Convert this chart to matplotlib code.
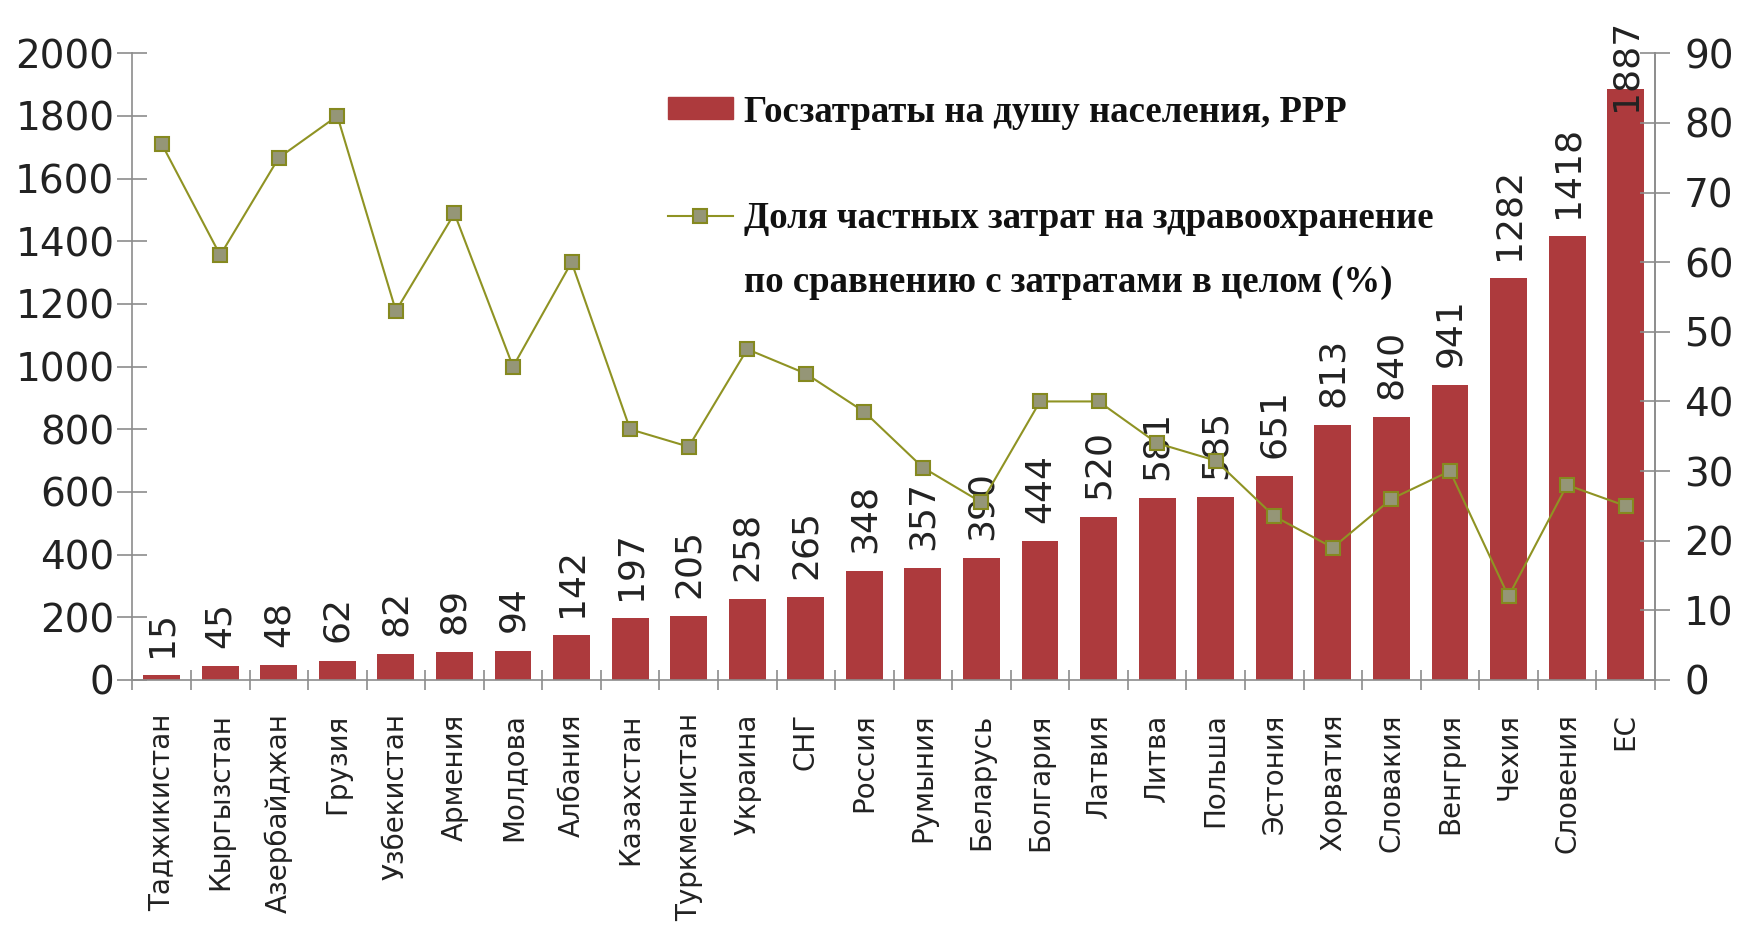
import matplotlib.pyplot as plt
from matplotlib.patches import Rectangle
from matplotlib.lines import Line2D

# Data
countries = ["Таджикистан", "Кыргызстан", "Азербайджан", "Грузия", "Узбекистан",
             "Армения", "Молдова", "Албания", "Казахстан", "Туркменистан",
             "Украина", "СНГ", "Россия", "Румыния", "Беларусь", "Болгария",
             "Латвия", "Литва", "Польша", "Эстония", "Хорватия", "Словакия",
             "Венгрия", "Чехия", "Словения", "ЕС"]
public_spend_ppp = [15, 45, 48, 62, 82, 89, 94, 142, 197, 205, 258, 265, 348,
                    357, 390, 444, 520, 581, 585, 651, 813, 840, 941, 1282,
                    1418, 1887]
private_share_pct = [77, 61, 75, 81, 53, 67, 45, 60, 36, 33.5, 47.5, 44, 38.5,
                     30.5, 25.5, 40, 40, 34, 31.5, 23.5, 19, 26, 30, 12, 28, 25]

left_ticks = list(range(0, 2001, 200))
right_ticks = list(range(0, 91, 10))

BAR_COLOR = "#AD3A3D"
LINE_COLOR = "#8F9323"
MARKER_FACE = "#959677"
MARKER_EDGE = "#85891F"
AXIS_GRAY = "#8C8C8C"

plt.rcParams['font.family'] = ['DejaVu Sans']

fig = plt.figure(figsize=(17.42, 9.27), dpi=100)
ax = fig.add_axes([0.076, 0.2665, 0.874, 0.676])

n = len(countries)
xs = list(range(n))
ax.bar(xs, public_spend_ppp, width=0.63, color=BAR_COLOR, zorder=2)
ax.set_xlim(-0.5, n - 0.5)
ax.set_ylim(0, 2000)
ax.set_yticks(left_ticks)
ax.set_yticklabels([str(t) for t in left_ticks], fontsize=28, color="#222222")

# value labels over the bars
for i, v in enumerate(public_spend_ppp):
    off = (0, -16) if v > 1600 else (0, 13)
    ax.annotate(str(v), (i, v), xytext=off, textcoords='offset points',
                rotation=90, ha='center', va='bottom', fontsize=26,
                color="#222222", annotation_clip=False, zorder=5)

# category axis: labels at centres, ticks at the boundaries
ax.set_xticks(xs)
ax.set_xticklabels(countries, rotation=90, fontsize=20, va='top', ha='center',
                   color="#222222")
ax.tick_params(axis='x', which='major', length=0, pad=24)
ax.set_xticks([i - 0.5 for i in range(n + 1)], minor=True)
ax.tick_params(axis='x', which='minor', length=14, width=1.2,
               direction='inout', color=AXIS_GRAY)
ax.tick_params(axis='y', length=22, width=1.2, direction='inout',
               color=AXIS_GRAY, pad=2)

ax.spines['top'].set_visible(False)
for side in ('left', 'bottom', 'right'):
    ax.spines[side].set_color(AXIS_GRAY)
    ax.spines[side].set_linewidth(1.2)

ax2 = ax.twinx()
ax2.set_ylim(0, 90)
ax2.set_yticks(right_ticks)
ax2.set_yticklabels([str(t) for t in right_ticks], fontsize=28, color="#222222")
ax2.tick_params(axis='y', length=22, width=1.2, direction='inout',
                color=AXIS_GRAY, pad=10)
for side in ('top', 'left', 'bottom'):
    ax2.spines[side].set_visible(False)
ax2.spines['right'].set_color(AXIS_GRAY)
ax2.spines['right'].set_linewidth(1.2)
ax2.plot(xs, private_share_pct, color=LINE_COLOR, lw=1.5, marker='s',
         ms=10, mfc=MARKER_FACE, mec=MARKER_EDGE, mew=1.5, zorder=4)

# legend drawn in figure coordinates
W, H = 1742.0, 927.0
legend_font = dict(family='Liberation Serif', weight='bold', fontsize=26.5,
                   color="#111111", va='center', ha='left')
fig.add_artist(Rectangle((668 / W, 1 - 119 / H), 65 / W, 22 / H,
                         transform=fig.transFigure, color=BAR_COLOR))
fig.text(744 / W, 1 - 112 / H, "Госзатраты на душу населения, РРР", **legend_font)
fig.add_artist(Line2D([668 / W, 733 / W], [1 - 216 / H, 1 - 216 / H],
                      transform=fig.transFigure, color=LINE_COLOR, lw=1.5))
fig.add_artist(Line2D([700 / W], [1 - 216 / H], transform=fig.transFigure,
                      marker='s', ms=10, mfc=MARKER_FACE, mec=MARKER_EDGE,
                      mew=1.5, linestyle='none'))
fig.text(744 / W, 1 - 218 / H, "Доля частных затрат на здравоохранение",
         **legend_font)
fig.text(744 / W, 1 - 282 / H, "по сравнению с затратами в целом (%)",
         **legend_font)

fig.savefig("out.png", dpi=100)
